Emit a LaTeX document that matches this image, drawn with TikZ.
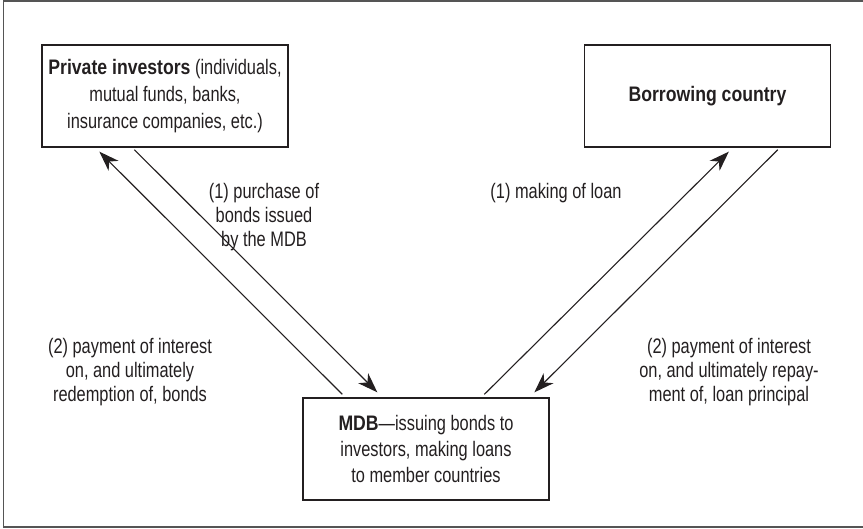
\documentclass[tikz,border=0pt]{standalone}
\usepackage{fontspec}
\setmainfont{Liberation Sans}[FakeStretch=0.78,BoldFeatures={FakeStretch=0.84}]
\usetikzlibrary{arrows.meta,calc}
\definecolor{ink}{HTML}{231F20}
\definecolor{framegray}{HTML}{555555}
\begin{document}
\begin{tikzpicture}[x=1pt,y=-1pt,
  box/.style={draw=ink,line width=1.3pt,minimum width=246pt,minimum height=102pt,inner sep=0pt,align=center,text=ink,font=\fontsize{21}{27}\selectfont},
  lbl/.style={align=center,text=ink,inner sep=0pt,font=\fontsize{21}{24}\selectfont},
  arr/.style={draw=ink,line width=1.1pt,-{Stealth[length=20pt,width=14pt,inset=6pt]}}]
\useasboundingbox (0,0) rectangle (863,528);
\draw[framegray,line width=1.6pt] (875,1) -- (3.5,1) -- (3.5,527) -- (875,527);
\node[box] (pi) at (165,96) {\textbf{Private investors} (individuals,\\mutual funds, banks,\\insurance companies, etc.)};
\node[box] (bc) at (707.5,96) {\textbf{Borrowing country}};
\node[box,font=\fontsize{21}{26}\selectfont] (mdb) at (426,449) {\textbf{MDB}---issuing bonds to\\investors, making loans\\to member countries};
\draw[arr] ($(mdb.north west)+(40,-3)$) -- ($(pi.south west)+(58,4)$);
\draw[arr] ($(pi.south west)+(93,2)$) -- ($(mdb.north west)+(75,-5)$);
\draw[arr] ($(mdb.north west)+(182,-3)$) -- ($(bc.south west)+(145,4)$);
\draw[arr] ($(bc.south west)+(194,2)$) -- ($(mdb.north west)+(232,-5)$);
\node[lbl] (l1) at (264,217) {(1) purchase of\\bonds issued\\by the MDB};
\node[lbl] (l2) at (130,372) {(2) payment of interest\\on, and ultimately\\redemption of, bonds};
\node[lbl] (l3) at (556,193) {(1) making of loan};
\node[lbl] (l4) at (729,372) {(2) payment of interest\\on, and ultimately repay-\\ment of, loan principal};
\end{tikzpicture}
\end{document}
